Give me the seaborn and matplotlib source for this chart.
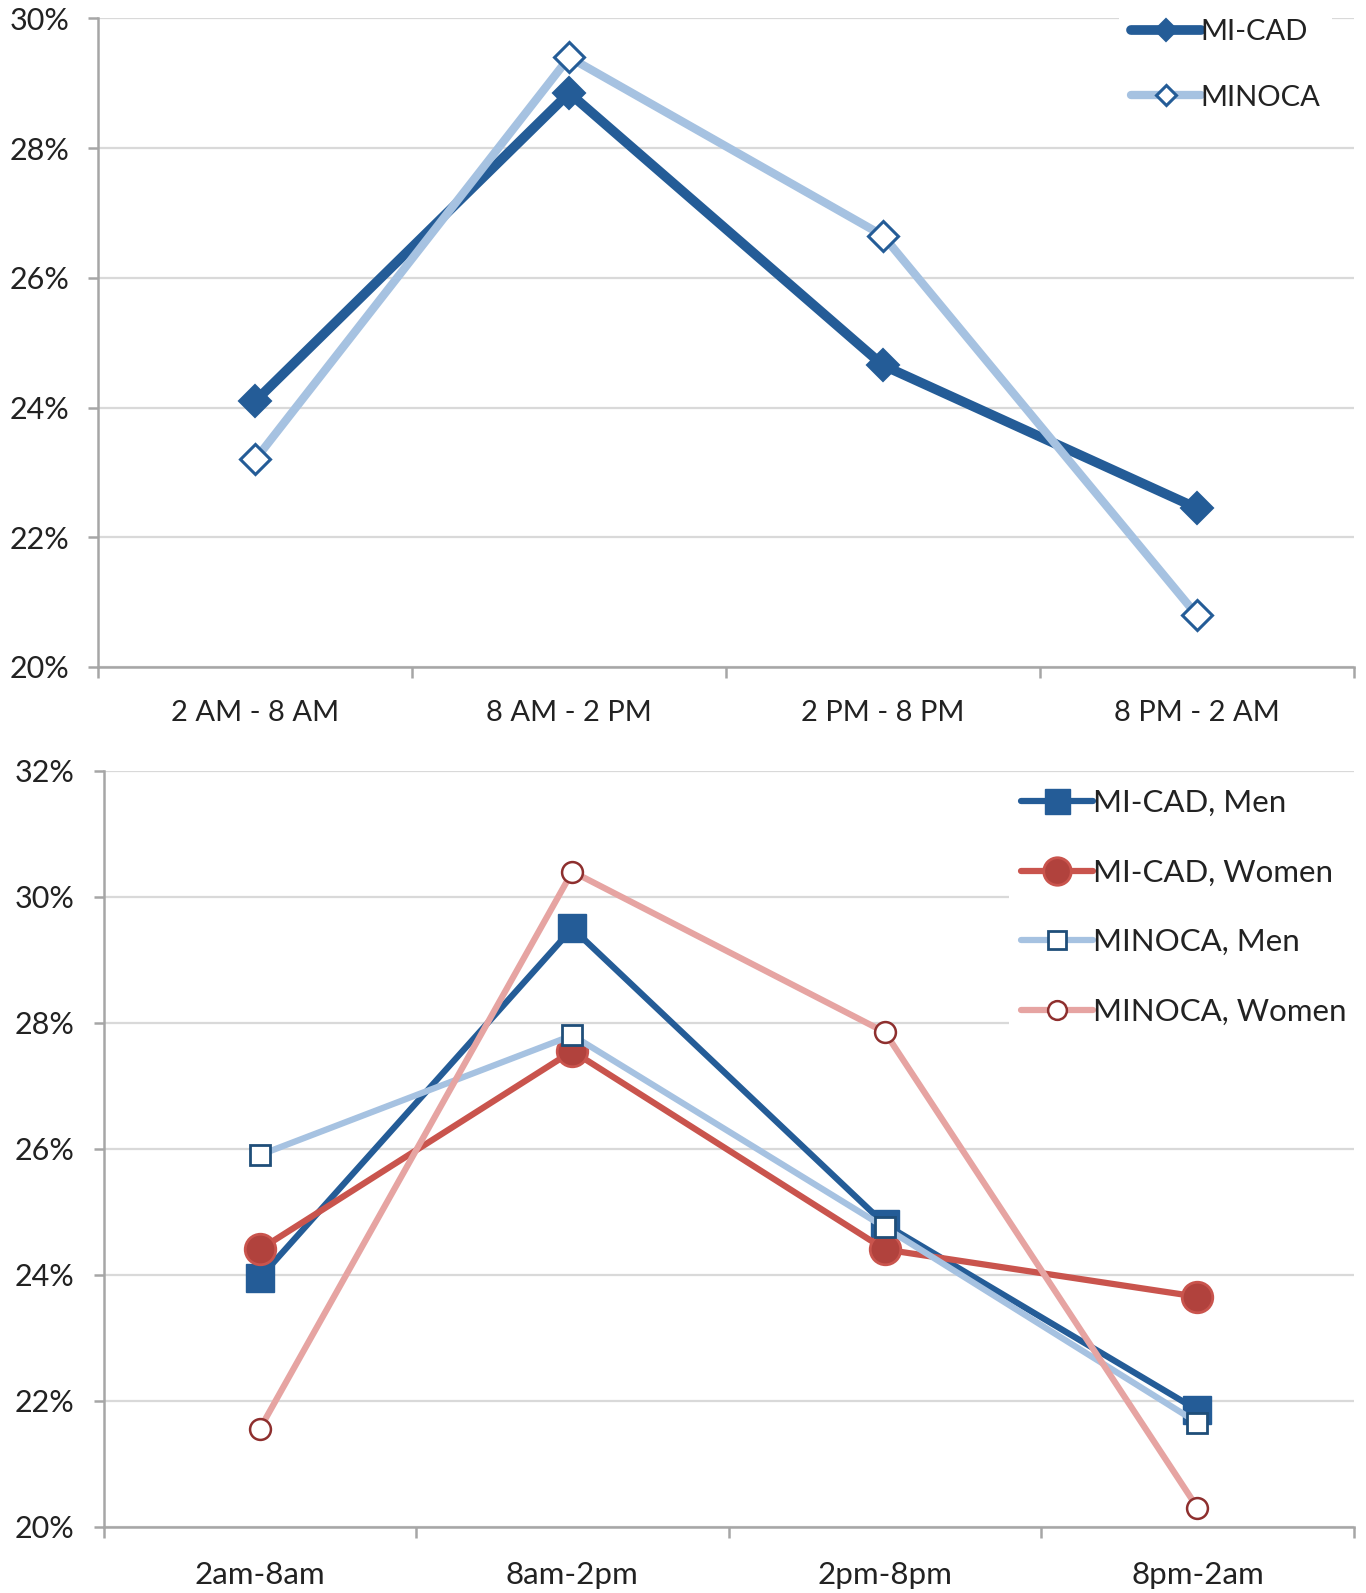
import matplotlib
matplotlib.use("Agg")
import matplotlib.pyplot as plt
import seaborn as sns
from matplotlib.ticker import FixedLocator, FuncFormatter

# Share of events by time of day (%)
periods_top = ["2 AM - 8 AM", "8 AM - 2 PM", "2 PM - 8 PM", "8 PM - 2 AM"]
mi_cad = [24.1, 28.85, 24.65, 22.45]
minoca = [23.2, 29.4, 26.65, 20.8]

periods_bottom = ["2am-8am", "8am-2pm", "2pm-8pm", "8pm-2am"]
mi_cad_men = [23.95, 29.5, 24.8, 21.85]
mi_cad_women = [24.4, 27.55, 24.4, 23.65]
minoca_men = [25.9, 27.8, 24.75, 21.65]
minoca_women = [21.55, 30.4, 27.85, 20.3]

top_ticks = [20, 22, 24, 26, 28, 30]
bottom_ticks = [20, 22, 24, 26, 28, 30, 32]

sns.set_theme(style="white")
plt.rcParams["font.family"] = ["Lato", "DejaVu Sans"]

DARK_BLUE = "#245c97"
LIGHT_BLUE = "#a6c2e1"
RED = "#c9544d"
RED_MARK = "#b1423d"
PINK = "#e6a4a2"
PINK_EDGE = "#8e2f2e"
AXIS_GRAY = "#a6a6a6"
GRID_GRAY = "#d9d9d9"
TEXT = "#222222"

fig = plt.figure(figsize=(13.66, 15.93), dpi=100)
ax1 = fig.add_axes([0.0721, 0.5813, 0.9189, 0.4072])
ax2 = fig.add_axes([0.0758, 0.0417, 0.9152, 0.4744])


def style_axis(ax, ticks, xfs, xpad):
    ax.set_ylim(ticks[0], ticks[-1])
    ax.set_xlim(-0.5, 3.5)
    ax.yaxis.set_major_locator(FixedLocator(ticks))
    ax.yaxis.set_major_formatter(FuncFormatter(lambda v, p: f"{v:.0f}%"))
    ax.grid(axis="y", color=GRID_GRAY, lw=1.6, zorder=0)
    ax.grid(axis="x", visible=False)
    ax.set_axisbelow(True)
    for side in ("top", "right"):
        ax.spines[side].set_visible(False)
    for side in ("left", "bottom"):
        ax.spines[side].set_color(AXIS_GRAY)
        ax.spines[side].set_linewidth(1.8)
    ax.xaxis.set_minor_locator(FixedLocator([-0.5, 0.5, 1.5, 2.5, 3.5]))
    ax.tick_params(axis="x", which="major", length=0, pad=xpad,
                   labelsize=xfs, labelcolor=TEXT)
    ax.tick_params(axis="x", which="minor", length=8, width=1.8,
                   color=AXIS_GRAY, direction="out", bottom=True)
    ax.tick_params(axis="y", which="major", length=7, width=1.8,
                   color=AXIS_GRAY, direction="out", left=True, pad=14,
                   labelsize=22, labelcolor=TEXT)
    ax.set_xlabel("")
    ax.set_ylabel("")


def finish_legend(leg):
    for t in leg.get_texts():
        t.set_color(TEXT)
    for ln in leg.get_lines():
        ln.set_solid_capstyle("round")


# Overall comparison
sns.lineplot(x=periods_top, y=mi_cad, ax=ax1, sort=False, color=DARK_BLUE,
             lw=7, marker="D", markersize=16, markerfacecolor=DARK_BLUE,
             markeredgecolor=DARK_BLUE, markeredgewidth=1.5, label="MI-CAD")
sns.lineplot(x=periods_top, y=minoca, ax=ax1, sort=False, color=LIGHT_BLUE,
             lw=6, marker="D", markersize=15, markerfacecolor="white",
             markeredgecolor=DARK_BLUE, markeredgewidth=2.2, label="MINOCA")
style_axis(ax1, top_ticks, 21, 24)
leg1 = ax1.legend(loc="upper right", bbox_to_anchor=(0.99, 1.03), fontsize=21,
                  frameon=True, facecolor="white", edgecolor="none",
                  framealpha=1, handlelength=2.4, handletextpad=0.0,
                  labelspacing=1.35, borderaxespad=0.3, numpoints=1,
                  markerscale=0.7)
finish_legend(leg1)

# Comparison by sex
sns.lineplot(x=periods_bottom, y=mi_cad_men, ax=ax2, sort=False,
             color=DARK_BLUE, lw=4.5, marker="s", markersize=20,
             markerfacecolor=DARK_BLUE, markeredgecolor=DARK_BLUE,
             markeredgewidth=1, label="MI-CAD, Men")
sns.lineplot(x=periods_bottom, y=mi_cad_women, ax=ax2, sort=False,
             color=RED, lw=4.5, marker="o", markersize=22,
             markerfacecolor=RED_MARK, markeredgecolor=RED,
             markeredgewidth=2, label="MI-CAD, Women")
sns.lineplot(x=periods_bottom, y=minoca_men, ax=ax2, sort=False,
             color=LIGHT_BLUE, lw=4.5, marker="s", markersize=14,
             markerfacecolor="white", markeredgecolor="#1f4e79",
             markeredgewidth=2, label="MINOCA, Men")
sns.lineplot(x=periods_bottom, y=minoca_women, ax=ax2, sort=False,
             color=PINK, lw=4.5, marker="o", markersize=15,
             markerfacecolor="white", markeredgecolor=PINK_EDGE,
             markeredgewidth=1.8, label="MINOCA, Women")
style_axis(ax2, bottom_ticks, 22.5, 25)
leg2 = ax2.legend(loc="upper right", bbox_to_anchor=(1.012, 1.005),
                  fontsize=22.5, frameon=True, facecolor="white",
                  edgecolor="none", framealpha=1, handlelength=2.3,
                  handletextpad=0.0, labelspacing=1.33, borderaxespad=0.3,
                  numpoints=1, markerscale=0.9)
finish_legend(leg2)

fig.savefig("out.png", dpi=100, facecolor="white")
